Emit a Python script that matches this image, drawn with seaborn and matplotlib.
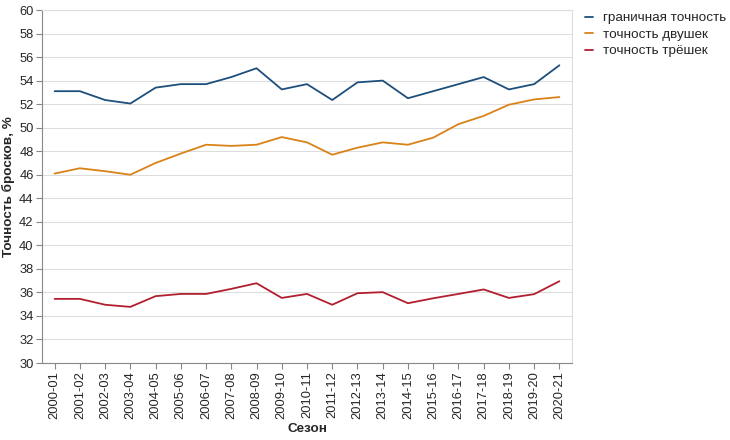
import pandas as pd
import seaborn as sns
import matplotlib.pyplot as plt

# data
seasons = ['2000-01', '2001-02', '2002-03', '2003-04', '2004-05', '2005-06', '2006-07',
           '2007-08', '2008-09', '2009-10', '2010-11', '2011-12', '2012-13', '2013-14',
           '2014-15', '2015-16', '2016-17', '2017-18', '2018-19', '2019-20', '2020-21']
boundary_acc = [53.1, 53.1, 52.35, 52.05, 53.4, 53.7, 53.7, 54.3, 55.05, 53.25, 53.7,
                52.35, 53.85, 54.0, 52.5, 53.1, 53.7, 54.3, 53.25, 53.7, 55.3]
two_acc = [46.1, 46.55, 46.3, 46.0, 47.0, 47.8, 48.55, 48.45, 48.55, 49.2, 48.75,
           47.7, 48.3, 48.75, 48.55, 49.15, 50.3, 51.0, 51.95, 52.4, 52.6]
three_acc = [35.45, 35.45, 34.95, 34.77, 35.68, 35.87, 35.87, 36.3, 36.78, 35.53, 35.87,
             34.95, 35.93, 36.02, 35.08, 35.5, 35.87, 36.25, 35.53, 35.85, 36.95]
series_names = ['граничная точность', 'точность двушек', 'точность трёшек']
colors = ['#1d4f7c', '#d98218', '#b11f2e']

df = pd.DataFrame({'Сезон': seasons,
                   series_names[0]: boundary_acc,
                   series_names[1]: two_acc,
                   series_names[2]: three_acc})
long_df = df.melt(id_vars='Сезон', var_name='серия', value_name='значение')
long_df['pos'] = long_df['Сезон'].map({s: i for i, s in enumerate(seasons)})

sns.set_style('white')
plt.rcParams['font.family'] = ['Liberation Sans', 'DejaVu Sans']

fig = plt.figure(figsize=(7.3, 4.4), dpi=100)
ax = fig.add_axes([42 / 730, 1 - 363 / 440, 530 / 730, 353 / 440])

sns.lineplot(data=long_df, x='pos', y='значение', hue='серия', hue_order=series_names,
             palette=colors, linewidth=1.3, ax=ax, legend=True)

ax.set_xlim(-0.5, len(seasons) - 0.5)
ax.set_ylim(30, 60)
ax.set_yticks(range(30, 61, 2))
ax.set_xticks(range(len(seasons)))
ax.set_xticklabels(seasons, rotation=90, fontsize=9.3)
ax.tick_params(axis='y', labelsize=9.3)
ax.tick_params(axis='both', length=4, width=0.8, color='#888888', pad=2, left=True, bottom=True)
ax.grid(axis='y', color='#dddddd', linewidth=0.8)
ax.set_axisbelow(True)

for side in ['top', 'right']:
    ax.spines[side].set_color('#dddddd')
    ax.spines[side].set_linewidth(0.8)
for side in ['left', 'bottom']:
    ax.spines[side].set_color('#888888')
    ax.spines[side].set_linewidth(0.8)

ax.set_xlabel('Сезон', fontsize=9.7, fontweight='bold', labelpad=3)
ax.set_ylabel('Точность бросков, %', fontsize=9.7, fontweight='bold', labelpad=3)

leg = ax.legend(title=None, loc='upper left', bbox_to_anchor=(1.015, 1.01), frameon=False,
                fontsize=9.7, handlelength=0.6, handletextpad=0.7, labelspacing=0.3,
                borderaxespad=0)

plt.savefig('out.png', dpi=100)
